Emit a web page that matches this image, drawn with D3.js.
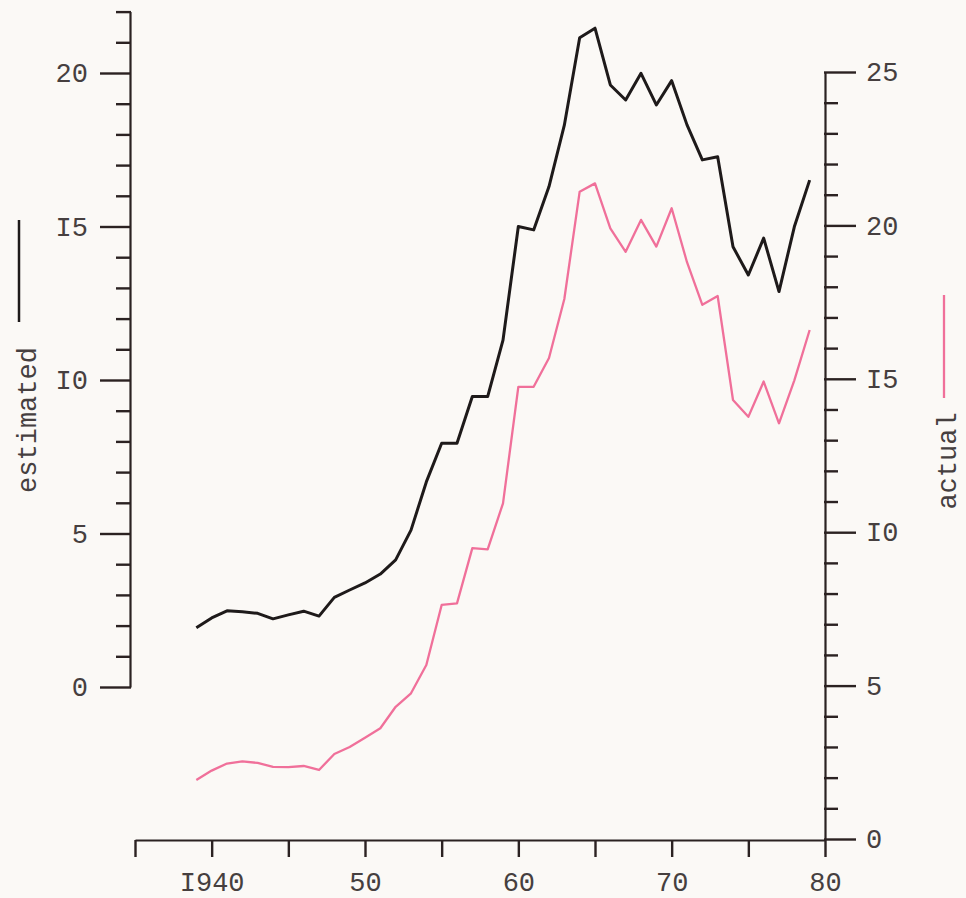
<!DOCTYPE html>
<html>
<head>
<meta charset="utf-8">
<script src="https://cdn.jsdelivr.net/npm/d3@7"></script>
<style>
  html, body { margin: 0; padding: 0; background: #fbf9f6; }
  svg { display: block; }
  text { font-family: "Liberation Mono", "DejaVu Sans Mono", monospace; fill: #463f3f; }
</style>
</head>
<body>
<svg id="chart" width="966" height="898"></svg>
<script>
// ---- data ----
const years = [1939,1940,1941,1942,1943,1944,1945,1946,1947,1948,1949,
               1950,1951,1952,1953,1954,1955,1956,1957,1958,1959,
               1960,1961,1962,1963,1964,1965,1966,1967,1968,1969,
               1970,1971,1972,1973,1974,1975,1976,1977,1978,1979];
const estimated = [1.93,2.25,2.48,2.45,2.40,2.22,2.35,2.47,2.31,2.92,3.16,
                   3.39,3.68,4.14,5.11,6.68,7.94,7.94,9.46,9.46,11.3,
                   15.0,14.89,16.3,18.3,21.15,21.46,19.61,19.12,19.99,18.96,
                   19.75,18.31,17.17,17.27,14.34,13.42,14.62,12.88,14.99,16.51];
const actual = [1.92,2.23,2.46,2.53,2.48,2.35,2.34,2.38,2.25,2.77,3.0,
                3.3,3.61,4.31,4.75,5.67,7.63,7.68,9.48,9.44,10.94,
                14.74,14.74,15.68,17.6,21.1,21.37,19.9,19.14,20.18,19.31,
                20.56,18.8,17.41,17.7,14.31,13.76,14.91,13.55,14.95,16.59];
const xTicks = [1935,1940,1945,1950,1955,1960,1965,1970,1975,1980];
const xTickLabels = {1940:"I940", 1950:"50", 1960:"60", 1970:"70", 1980:"80"};
const leftTicks = [0,1,2,3,4,5,6,7,8,9,10,11,12,13,14,15,16,17,18,19,20,21,22];
const rightTicks = [0,1,2,3,4,5,6,7,8,9,10,11,12,13,14,15,16,17,18,19,20,21,22,23,24,25];
const leftLabel = "estimated";
const rightLabel = "actual";

// ---- scales ----
const svg = d3.select("#chart");
const x = d3.scaleLinear().domain([1935, 1980]).range([135, 825]);
const yL = d3.scaleLinear().domain([0, 22]).range([687, 11.6]);
const yR = d3.scaleLinear().domain([0, 25]).range([839, 72]);
const typeFmt = v => String(v).replace(/1/g, "I");
const axisColor = "#2b2222";
const fs = 27;

// left axis
const gL = svg.append("g").attr("transform", "translate(130,0)")
  .call(d3.axisLeft(yL).tickValues(leftTicks).tickSizeOuter(0)
        .tickFormat(d => d % 5 === 0 ? typeFmt(d) : ""));
gL.selectAll(".tick line").attr("x2", d => d % 5 === 0 ? -30 : -14).attr("x1", 1);
gL.selectAll(".tick text").attr("x", -42).style("font-size", fs + "px");

// right axis
const gR = svg.append("g").attr("transform", "translate(825,0)")
  .call(d3.axisRight(yR).tickValues(rightTicks).tickSizeOuter(0)
        .tickFormat(d => d % 5 === 0 ? typeFmt(d) : ""));
gR.selectAll(".tick line").attr("x2", d => d % 5 === 0 ? 31 : 13).attr("x1", -1);
gR.selectAll(".tick text").attr("x", 41).style("font-size", fs + "px");

// bottom axis
const gX = svg.append("g").attr("transform", "translate(0,840)")
  .call(d3.axisBottom(x).tickValues(xTicks).tickSizeOuter(0)
        .tickFormat(d => xTickLabels[d] || ""));
gX.selectAll(".tick line").attr("y2", 17);
gX.selectAll(".tick text").attr("y", 51).attr("dy", 0).style("font-size", fs + "px");

[gL, gR, gX].forEach(g => {
  g.selectAll("path.domain").attr("stroke", axisColor).attr("stroke-width", 2.2);
  g.selectAll(".tick line").attr("stroke", axisColor).attr("stroke-width", 2.4);
  g.selectAll("text").attr("fill", "#463f3f").style("font-family", '"Liberation Mono", monospace');
});

// lines
const lineL = d3.line().x((d, i) => x(years[i])).y(d => yL(d));
const lineR = d3.line().x((d, i) => x(years[i])).y(d => yR(d));

svg.append("path").datum(actual)
  .attr("fill", "none").attr("stroke", "#f0709a").attr("stroke-width", 2.3)
  .attr("stroke-linejoin", "round").attr("d", lineR);

svg.append("path").datum(estimated)
  .attr("fill", "none").attr("stroke", "#1e1a1a").attr("stroke-width", 3)
  .attr("stroke-linejoin", "round").attr("d", lineL);

// legend keys and axis titles
svg.append("line").attr("x1", 19).attr("x2", 19).attr("y1", 220).attr("y2", 322)
  .attr("stroke", "#1e1a1a").attr("stroke-width", 2.5);
svg.append("text").attr("transform", "translate(36,420) rotate(-90)")
  .attr("text-anchor", "middle").style("font-size", fs + "px").text(leftLabel);

svg.append("line").attr("x1", 944).attr("x2", 944).attr("y1", 295).attr("y2", 398)
  .attr("stroke", "#f0709a").attr("stroke-width", 2.3);
svg.append("text").attr("transform", "translate(956,461) rotate(-90)")
  .attr("text-anchor", "middle").style("font-size", fs + "px").text(rightLabel);
</script>
</body>
</html>
